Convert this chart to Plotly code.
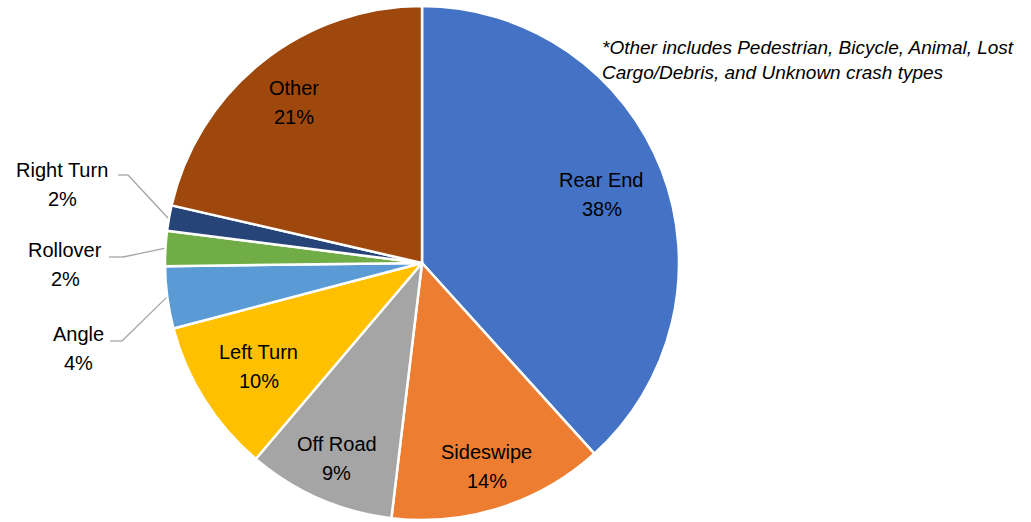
import math
import plotly.graph_objects as go

categories = ["Rear End", "Sideswipe", "Off Road", "Left Turn", "Angle", "Rollover", "Right Turn", "Other"]
values = [38.3, 13.6, 9.3, 9.7, 3.9, 2.2, 1.6, 21.4]
pct_labels = ["38%", "14%", "9%", "10%", "4%", "2%", "2%", "21%"]
colors = ["#4472C4", "#ED7D31", "#A5A5A5", "#FFC000", "#5B9BD5", "#70AD47", "#264478", "#9E480E"]
note = "*Other includes Pedestrian, Bicycle, Animal, Lost<br>Cargo/Debris, and Unknown crash types"

W, H = 1031, 522
CX, CY, R = 422, 263, 257
FONT = "Liberation Sans"
FS = 20

def paper(x, y):
    return x / W, 1 - y / H

fig = go.Figure(go.Pie(
    labels=categories, values=values, sort=False, direction="clockwise", rotation=0,
    marker=dict(colors=colors, line=dict(color="white", width=2.5)),
    textinfo="none", hoverinfo="label+percent", showlegend=False,
    domain=dict(x=[(CX - R) / W, (CX + R) / W], y=[1 - (CY + R) / H, 1 - (CY - R) / H]),
))

total = sum(values)
mids = []
acc = 0
for v in values:
    mids.append((acc + v / 2) / total * 2 * math.pi)
    acc += v

annotations = []
shapes = []
# label centre x, label centre y, leader start x, leader elbow x, leader y
outside = {"Angle": (78, 348, 110, 122, 341),
           "Rollover": (65, 264, 109, 123, 257),
           "Right Turn": (62, 184, 118, 128, 175)}
inside_frac = {"Rear End": 0.75, "Sideswipe": 0.83, "Off Road": 0.83, "Left Turn": 0.75, "Other": 0.80}

for name, pct, th in zip(categories, pct_labels, mids):
    if name in outside:
        lx, ly, hx, ex, ey = outside[name]
        px_ = CX + R * math.sin(th)
        py_ = CY - R * math.cos(th)
        x0, y0 = paper(hx, ey)
        x1, y1 = paper(ex, ey)
        x2, y2 = paper(px_ - 1, py_)
        shapes.append(dict(type="line", xref="paper", yref="paper", x0=x0, y0=y0, x1=x1, y1=y1,
                           line=dict(color="#A6A6A6", width=1.3)))
        shapes.append(dict(type="line", xref="paper", yref="paper", x0=x1, y0=y1, x1=x2, y1=y2,
                           line=dict(color="#A6A6A6", width=1.3)))
    else:
        f = inside_frac[name]
        lx = CX + f * R * math.sin(th)
        ly = CY - f * R * math.cos(th)
    ax, ay = paper(lx, ly)
    annotations.append(dict(x=ax, y=ay, xref="paper", yref="paper", text=name, showarrow=False,
                            xanchor="center", yanchor="middle", yshift=14,
                            font=dict(family=FONT, size=FS, color="#000000")))
    annotations.append(dict(x=ax, y=ay, xref="paper", yref="paper", text=pct, showarrow=False,
                            xanchor="center", yanchor="middle", yshift=-15,
                            font=dict(family=FONT, size=FS, color="#000000")))

nx, ny = paper(600, 60)
annotations.append(dict(x=nx, y=ny, xref="paper", yref="paper", text="<i>" + note + "</i>",
                        showarrow=False, xanchor="left", yanchor="middle", align="left",
                        font=dict(family=FONT, size=19, color="#000000")))

fig.update_layout(width=W, height=H, autosize=False, margin=dict(l=0, r=0, t=0, b=0),
                  paper_bgcolor="white", plot_bgcolor="white",
                  annotations=annotations, shapes=shapes)
fig.write_html("out.html")
